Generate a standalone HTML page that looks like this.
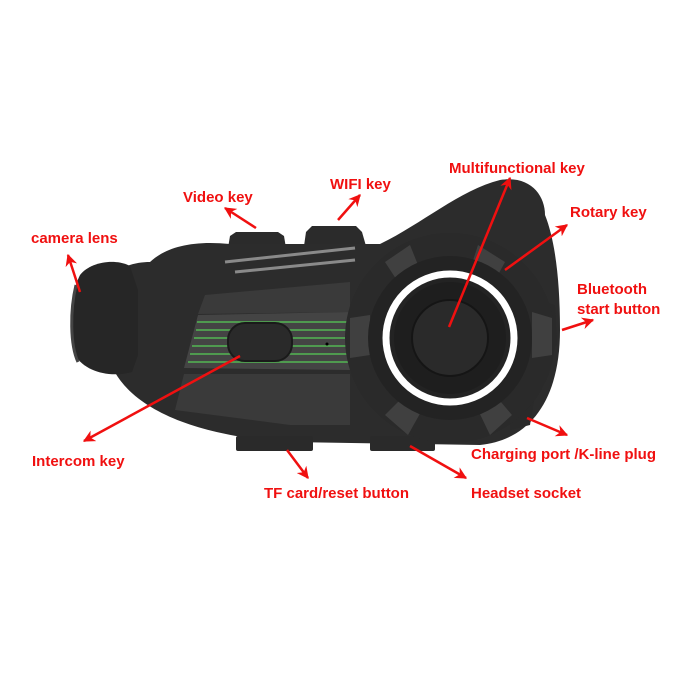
<!DOCTYPE html>
<html><head><style>
html,body{margin:0;padding:0;background:#fff;}
svg{display:block}
text{font-family:"Liberation Sans",sans-serif;font-weight:bold;font-size:15px;fill:#f01010}
</style></head><body>
<svg width="681" height="681" viewBox="0 0 681 681" xmlns="http://www.w3.org/2000/svg">
<defs>
<marker id="b" viewBox="0 0 10 10" markerWidth="16" markerHeight="12" refX="9" refY="5" orient="auto" markerUnits="userSpaceOnUse">
<path d="M0,0 L10,5 L0,10 L3,5 Z" fill="#f01010"/>
</marker>
</defs>
<path d="M228,248 L230,236 L236,232 L278,232 L284,236 L286,248 Z" fill="#2b2b2b"/>
<path d="M304,246 L306,232 L312,226 L356,226 L362,232 L366,246 Z" fill="#2b2b2b"/>
<path d="M100,300 C105,270 130,262 150,262 C165,248 190,240 230,244 L380,244 C420,225 460,190 500,180 C530,175 545,195 545,215 C555,240 560,280 560,330 C560,400 530,440 480,445 L290,442 C220,438 150,420 120,380 C105,360 98,330 100,300 Z" fill="#2c2c2c"/>
<path d="M80,275 C90,262 115,258 130,266 L138,290 L138,355 L132,372 C110,378 85,372 75,355 C68,330 70,295 80,275 Z" fill="#262626"/>
<path d="M76,285 C70,310 70,345 78,362" stroke="#444" stroke-width="3" fill="none"/>
<path d="M225,262 L355,248" stroke="#8a8a8a" stroke-width="3"/>
<path d="M235,272 L355,260" stroke="#8a8a8a" stroke-width="3"/>
<path d="M205,295 L350,282 L350,312 L198,314 Z" fill="#3a3a3a"/>
<path d="M198,315 L350,312 L350,370 L184,368 Z" fill="#444"/>
<g stroke="#4f9a4f" stroke-width="2">
<line x1="197" y1="322" x2="348" y2="322"/><line x1="196" y1="330" x2="348" y2="330"/>
<line x1="194" y1="338" x2="348" y2="338"/><line x1="192" y1="346" x2="348" y2="346"/>
<line x1="190" y1="354" x2="348" y2="354"/><line x1="188" y1="362" x2="348" y2="362"/>
</g>
<rect x="228" y="323" width="64" height="38" rx="17" fill="#2a2a2a" stroke="#1a1a1a" stroke-width="2"/>
<circle cx="327" cy="344" r="1.5" fill="#000"/>
<path d="M184,374 L350,374 L350,425 L290,425 L175,410 Z" fill="#3a3a3a"/>
<rect x="236" y="436" width="77" height="15" rx="2" fill="#2a2a2a"/>
<rect x="370" y="436" width="65" height="15" rx="2" fill="#2a2a2a"/>
<path d="M540,300 L555,305 L557,345 L545,355 Z" fill="#2a2a2a"/>
<path d="M510,405 L535,395 L530,425 L510,430 Z" fill="#2a2a2a"/>
<circle cx="450" cy="338" r="105" fill="#2a2a2a"/>
<g fill="#404040">
<path d="M385,262 L410,245 L420,270 L400,285 Z"/>
<path d="M478,245 L505,262 L492,286 L470,270 Z"/>
<path d="M532,312 L552,318 L552,355 L532,358 Z"/>
<path d="M350,318 L370,315 L370,355 L350,358 Z"/>
<path d="M385,415 L405,395 L422,410 L408,435 Z"/>
<path d="M478,410 L495,395 L512,415 L490,435 Z"/>
</g>
<circle cx="450" cy="338" r="82" fill="#232323"/>
<circle cx="450" cy="338" r="64" fill="none" stroke="#fff" stroke-width="7"/>
<circle cx="450" cy="338" r="56" fill="#1e1e1e"/>
<circle cx="450" cy="338" r="38" fill="#2a2a2a" stroke="#151515" stroke-width="2"/>
<g stroke="#f01010" stroke-width="2.5" fill="none" marker-end="url(#b)">
<line x1="80" y1="292" x2="68" y2="255"/>
<line x1="256" y1="228" x2="225" y2="208"/>
<line x1="338" y1="220" x2="360" y2="195"/>
<line x1="449" y1="327" x2="510" y2="178"/>
<line x1="505" y1="270" x2="567" y2="225"/>
<line x1="562" y1="330" x2="593" y2="320"/>
<line x1="527" y1="418" x2="567" y2="435"/>
<line x1="410" y1="446" x2="466" y2="478"/>
<line x1="287" y1="450" x2="308" y2="478"/>
<line x1="240" y1="356" x2="84" y2="441"/>
</g>
<text x="31" y="243">camera lens</text>
<text x="183" y="202">Video key</text>
<text x="330" y="189">WIFI key</text>
<text x="449" y="173">Multifunctional key</text>
<text x="570" y="217">Rotary key</text>
<text x="577" y="294">Bluetooth</text>
<text x="577" y="314">start button</text>
<text x="471" y="459">Charging port /K-line plug</text>
<text x="471" y="498">Headset socket</text>
<text x="264" y="498">TF card/reset button</text>
<text x="32" y="466">Intercom key</text>
</svg>
</body></html>
